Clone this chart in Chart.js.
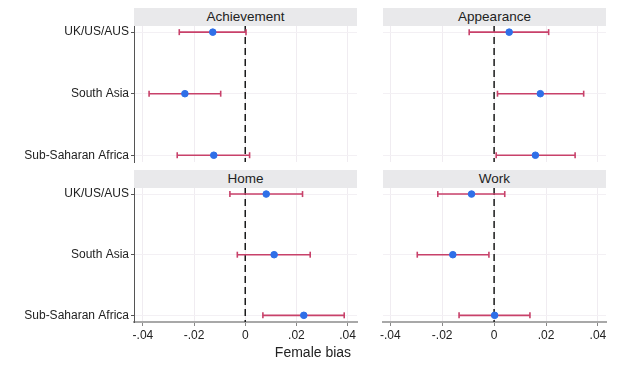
<!DOCTYPE html>
<html>
<head>
<meta charset="utf-8">
<script src="https://cdn.jsdelivr.net/npm/chart.js@4.4.1/dist/chart.umd.min.js"></script>
<style>
  body { margin: 0; background: #fff; font-family: "Liberation Sans", Arial, sans-serif; }
  #wrap { position: relative; width: 624px; height: 369px; overflow: hidden; }
  canvas { position: absolute; }
  .strip { position: absolute; background: #e9e9eb; color: #222; font-size: 13.5px;
           text-align: center; line-height: 18px; height: 18px; }
  #xtitle { position: absolute; left: 263px; width: 100px; top: 344px; text-align: center;
            font-size: 14px; color: #222; }
</style>
</head>
<body>
<div id="wrap">
  <div class="strip" style="left:134px;top:8px;width:223px">Achievement</div>
  <div class="strip" style="left:383px;top:8px;width:223px">Appearance</div>
  <div class="strip" style="left:134px;top:170px;width:223px">Home</div>
  <div class="strip" style="left:383px;top:170px;width:223px">Work</div>
  <canvas id="c1" style="left:0;top:26px"></canvas>
  <canvas id="c2" style="left:360px;top:26px"></canvas>
  <canvas id="c3" style="left:0;top:188px"></canvas>
  <canvas id="c4" style="left:360px;top:188px"></canvas>
  <div id="xtitle">Female bias</div>
</div>
<script>
// regions, same order in each panel
var regions = ['UK/US/AUS', 'South Asia', 'Sub-Saharan Africa'];
var xTicks = [-0.04, -0.02, 0, 0.02, 0.04];

// point estimates and 95% CI bounds
var achieveEst = [-0.0127, -0.0236, -0.0123];
var achieveLo  = [-0.0258, -0.0376, -0.0266];
var achieveHi  = [ 0.0003, -0.0096,  0.0017];

var appearEst = [0.0058, 0.0178, 0.0159];
var appearLo  = [-0.0096, 0.0013, 0.0008];
var appearHi  = [0.0210, 0.0345, 0.0312];

var homeEst = [0.0082, 0.0113, 0.0229];
var homeLo  = [-0.0060, -0.0031, 0.0069];
var homeHi  = [0.0224, 0.0254, 0.0387];

var workEst = [-0.0087, -0.0159, 0.0002];
var workLo  = [-0.0217, -0.0296, -0.0135];
var workHi  = [0.0041, -0.0020, 0.0138];

var ciColor = '#c8416a';
var ptColor = '#2f6fe8';

function fmt(v) {
  if (Math.abs(v) < 1e-9) return '0';
  return v.toFixed(2).replace('0.', '.');
}

// make one panel; left = has y labels, bottom = has x labels
function panel(id, est, lo, hi, left, bottom) {
  var w = left ? 360 : 264;
  var h = bottom ? 181 : 140;
  var cv = document.getElementById(id);
  cv.width = w; cv.height = h;
  cv.style.width = w + 'px'; cv.style.height = h + 'px';

  var sets = [];
  // dashed zero line
  sets.push({
    type: 'line', data: [{x: 0, y: -0.1}, {x: 0, y: 2.11}],
    borderColor: '#1a1a1a', borderWidth: 1.5, borderDash: [7, 4],
    pointRadius: 0, order: 3
  });
  for (var i = 0; i < regions.length; i++) {
    sets.push({
      type: 'line', data: [{x: lo[i], y: i}, {x: hi[i], y: i}],
      borderColor: ciColor, borderWidth: 1.6, pointStyle: 'line',
      rotation: 90, pointRadius: 3, pointBorderColor: ciColor,
      pointBorderWidth: 1.6, order: 2
    });
  }
  sets.push({
    type: 'scatter',
    data: est.map(function (v, i) { return {x: v, y: i}; }),
    backgroundColor: ptColor, borderColor: ptColor,
    pointRadius: 3.3, order: 1
  });

  return new Chart(cv, {
    type: 'scatter',
    data: { datasets: sets },
    options: {
      responsive: false, animation: false,
      layout: { autoPadding: false, padding: { right: left ? 3 : 18, top: 0, bottom: 0, left: 0 } },
      plugins: { legend: { display: false }, tooltip: { enabled: false } },
      elements: { line: { tension: 0 } },
      scales: {
        x: {
          type: 'linear', min: left ? -0.0435 : -0.0428, max: left ? 0.0437 : 0.0431,
          afterBuildTicks: function (s) { s.ticks = xTicks.map(function (v) { return {value: v}; }); },
          afterFit: function (s) { s.height = bottom ? 47 : 4; },
          grid: { color: '#f0ecf1', lineWidth: 1, drawTicks: bottom, tickLength: 4, tickColor: '#888' },
          border: { display: bottom, color: '#a8a8a8', width: 2 },
          ticks: { display: bottom, callback: fmt, color: '#222', padding: 2,
                   font: { family: 'Liberation Sans', size: 12 } }
        },
        y: {
          type: 'linear', min: -0.1, max: 2.11, reverse: true,
          afterBuildTicks: function (s) { s.ticks = regions.map(function (r, i) { return {value: i}; }); },
          afterFit: function (s) {
            s.width = left ? 134 : 23;
            s.paddingTop = 0; s.paddingBottom = 0;
          },
          grid: { color: '#f3f0f4', lineWidth: 1, drawTicks: left, tickLength: 3, tickColor: '#555' },
          border: { display: left, color: '#555', width: 1 },
          ticks: { display: left, color: '#222', padding: 2,
                   callback: function (v) { return regions[v]; },
                   font: { family: 'Liberation Sans', size: 12 } }
        }
      }
    }
  });
}

panel('c1', achieveEst, achieveLo, achieveHi, true, false);
panel('c2', appearEst, appearLo, appearHi, false, false);
panel('c3', homeEst, homeLo, homeHi, true, true);
panel('c4', workEst, workLo, workHi, false, true);
</script>
</body>
</html>
